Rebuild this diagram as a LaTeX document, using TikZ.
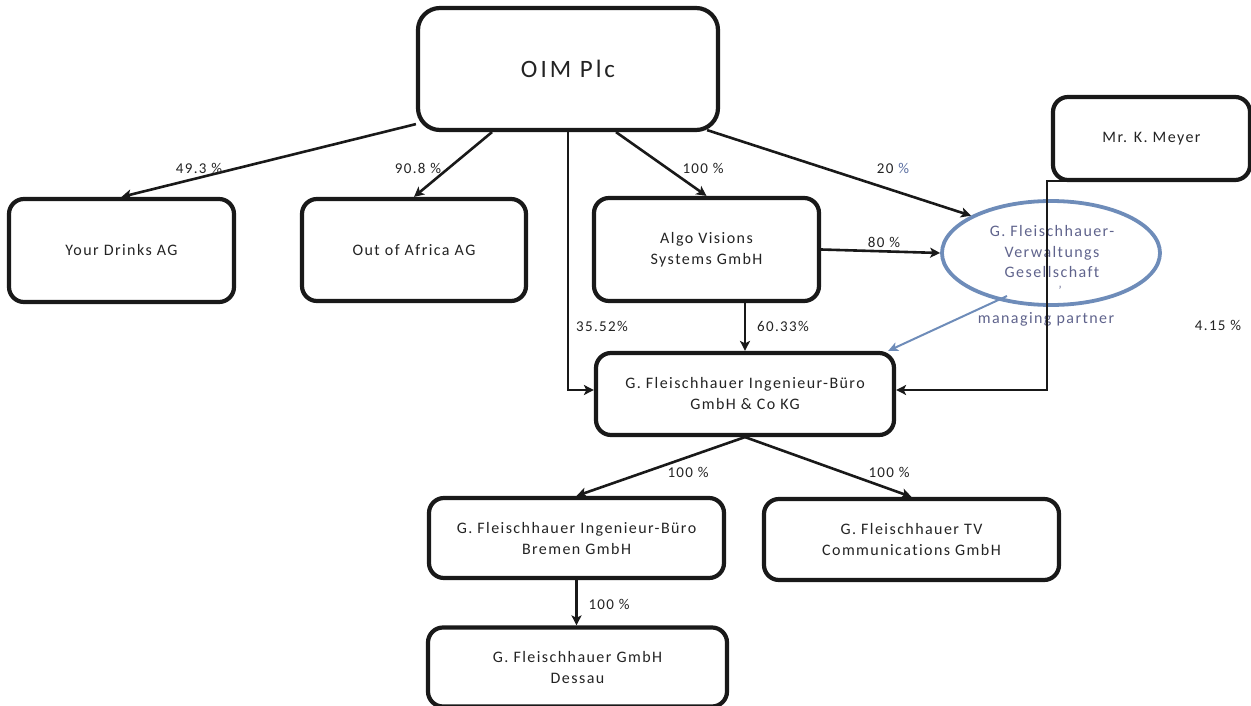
\documentclass[tikz,border=0pt]{standalone}
\usepackage{fontspec}
\setmainfont{Carlito}[LetterSpace=9,Ligatures=NoCommon]
\newfontfamily\bigfont{Carlito}[LetterSpace=12,Ligatures=NoCommon]
\usetikzlibrary{arrows.meta,shapes.geometric}
\definecolor{ink}{RGB}{25,25,25}
\definecolor{txt}{RGB}{35,35,35}
\definecolor{bluec}{RGB}{110,140,185}
\definecolor{bluetxt}{RGB}{95,99,140}
\definecolor{pct}{RGB}{90,110,160}
\begin{document}
\begin{tikzpicture}[x=1pt,y=-1pt,
  box/.style={draw=ink, line width=4.2pt, rounded corners=15pt, align=center, inner sep=0pt,
    text=txt, font=\fontsize{16}{21}\selectfont},
  conn/.style={draw=ink, line width=2.6pt, -{Stealth[length=10pt,width=10pt,inset=2.5pt]}},
  bconn/.style={draw=bluec, line width=2pt, -{Stealth[length=10pt,width=9pt,inset=2.5pt]}},
  lab/.style={inner sep=0pt, text=txt, font=\fontsize{15}{18}\selectfont}]
\useasboundingbox (0,0) rectangle (1251,706);
% boxes
\node[box, rounded corners=22pt, minimum width=300pt, minimum height=122pt] (oim) at (568,69)
  {\raisebox{-2pt}{\bigfont\fontsize{25}{30}\selectfont OIM Plc}};
\node[box, minimum width=225pt, minimum height=103pt] (drinks) at (121.5,250.5) {Your Drinks AG};
\node[box, minimum width=224pt, minimum height=102pt] (africa) at (414,250) {Out of Africa AG};
\node[box, minimum width=225pt, minimum height=103pt] (algo) at (706.5,249.5) {Algo Visions\\Systems GmbH};
\node[box, minimum width=298pt, minimum height=82pt] (kg) at (745,394) {G. Fleischhauer Ingenieur-Büro\\GmbH \& Co KG};
\node[box, minimum width=197pt, minimum height=83pt] (meyer) at (1151.5,138.5) {Mr. K. Meyer};
\node[box, minimum width=295pt, minimum height=80pt] (bremen) at (576.5,538) {G. Fleischhauer Ingenieur-Büro\\Bremen GmbH};
\node[box, minimum width=295pt, minimum height=81pt] (tv) at (911.5,539.5) {G. Fleischhauer TV\\Communications GmbH};
\node[box, minimum width=299pt, minimum height=79pt] (dessau) at (577.5,667) {G. Fleischhauer GmbH\\Dessau};
% ellipse
\node[draw=bluec, line width=3.8pt, ellipse, minimum width=218pt, minimum height=104pt, inner sep=0pt] (ell) at (1051,253) {};
\node[lab, text=bluetxt, align=center, font=\fontsize{16}{20.5}\selectfont] (elltext) at (1052,252)
  {G. Fleischhauer-\\Verwaltungs\\Gesellschaft};
\node[lab, text=bluetxt, font=\fontsize{12}{12}\selectfont] (tick) at (1060,290) {’};
\node[lab, text=bluetxt, font=\fontsize{16}{20}\selectfont] (mp) at (1046,319) {managing partner};
% connectors
\draw[conn] ([yshift=8pt]oim.south west) -- (drinks.north);
\draw[conn] ([xshift=-76pt]oim.south) -- (africa.north);
\draw[conn] ([xshift=48pt]oim.south) -- (algo.north);
\draw[conn] ([xshift=-13pt,yshift=2pt]oim.south east) -- (ell.155);
\draw[conn] (oim.south) |- ([yshift=4pt]kg.west);
\draw[conn] (algo.east) -- (ell.west);
\draw[conn] (kg.north |- algo.south) -- (kg.north);
\draw[conn] ([xshift=18pt,yshift=1pt]meyer.south west) -- ([xshift=-4pt,yshift=1pt]meyer.south west) |- ([yshift=4pt]kg.east);
\draw[bconn] ([shift={(-44pt,-43pt)}]ell.center) -- ([xshift=-8pt]kg.north east);
\draw[conn] (kg.south) -- (bremen.north);
\draw[conn] (kg.south) -- (tv.north);
\draw[conn] (bremen.south) -- (bremen.south |- dessau.north);
% labels
\node[lab] (l1) at (199,168) {49.3 \%};
\node[lab] (l2) at (418,168) {90.8 \%};
\node[lab] (l3) at (703,168) {100 \%};
\node[lab] (l4) at (893,168) {20 \textcolor{pct}{\%}};
\node[lab] (l5) at (884,242) {80 \%};
\node[lab] (l6) at (602,326) {35.52\%};
\node[lab] (l7) at (783,326) {60.33\%};
\node[lab] (l8) at (1218,325) {4.15 \%};
\node[lab] (l9) at (688,472) {100 \%};
\node[lab] (l10) at (889,472) {100 \%};
\node[lab] (l11) at (609,604) {100 \%};
\end{tikzpicture}
\end{document}
